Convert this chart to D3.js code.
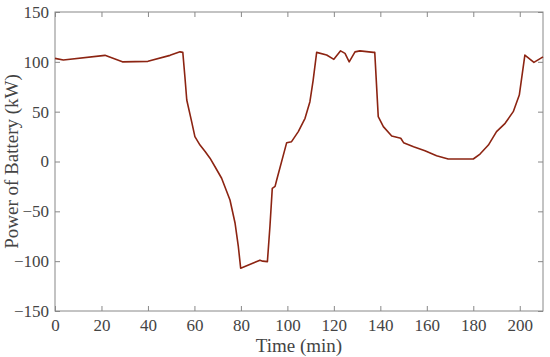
<!DOCTYPE html>
<html>
<head>
<meta charset="utf-8">
<script src="https://cdn.jsdelivr.net/npm/d3@7"></script>
<style>
  body { margin: 0; background: #fff; }
</style>
</head>
<body>
<div id="chart"></div>
<script>
// battery power over time
const timeMin = [0, 3.6, 21.5, 29, 40, 49.5, 53.8, 55, 55.9, 56.7, 58.8, 60.2, 62.4, 64.6, 66.7, 68.8, 71.7,
  75.3, 77.5, 78.9, 79.9, 88.2, 89.4, 91.4, 92.5, 93.5, 94.7, 95.4, 99.7, 101.8, 104.7, 107.6, 109.7,
  111.1, 112.6, 116.9, 120, 122.9, 124.8, 126.6, 129.1, 131.2, 137, 137.6, 139.1, 141.3, 144.9, 148.8,
  150, 154.3, 159.2, 164.2, 169.2, 180, 182.9, 186.5, 190, 193.7, 197.2, 199.8, 202.2, 206.1, 210];
const powerKw = [103.5, 101.8, 106.5, 100, 100.5, 106.5, 110, 109.5, 85, 61.7, 40, 25, 16.5, 10, 3.3, -5, -16.8,
  -38.6, -62, -85.5, -107, -99, -100, -100.5, -65, -27, -25, -18.6, 18.9, 19.9, 30, 43.3, 60,
  81.7, 109.5, 106.8, 102.5, 111, 108.5, 100, 110, 111, 109.5, 109.5, 45, 35, 25.6, 23.3,
  18.9, 14.8, 10.8, 5.8, 2.5, 2.5, 7.5, 16.5, 30, 38.3, 50, 66.7, 106.8, 99.5, 105];
const xTicks = [0, 20, 40, 60, 80, 100, 120, 140, 160, 180, 200];
const yTicks = [-150, -100, -50, 0, 50, 100, 150];

const W = 550, H = 357;
const m = { top: 12, right: 7, bottom: 46, left: 55 };
const iw = W - m.left - m.right, ih = H - m.top - m.bottom;
const FONT = 'Liberation Serif';

const svg = d3.select('#chart').append('svg').attr('width', W).attr('height', H);
const g = svg.append('g').attr('transform', `translate(${m.left},${m.top})`);

const x = d3.scaleLinear().domain([0, 210]).range([0, iw]);
const y = d3.scaleLinear().domain([-150, 150]).range([ih, 0]);

const axisColor = '#888';
function styleAxis(sel, showText) {
  sel.attr('font-family', null).attr('font-size', null);
  sel.select('.domain').remove();
  sel.selectAll('.tick line').attr('stroke', axisColor);
  sel.selectAll('.tick text').style('font-family', FONT).style('font-size', '17px').attr('fill', '#444');
  if (!showText) sel.selectAll('.tick text').remove();
}

// ticks point inward on all four sides
g.append('g').attr('transform', `translate(0,${ih})`)
  .call(d3.axisBottom(x).tickValues(xTicks).tickSizeInner(-5).tickPadding(8).tickFormat(d3.format('d')))
  .call(s => styleAxis(s, true));
g.append('g')
  .call(d3.axisTop(x).tickValues(xTicks).tickSizeInner(-5))
  .call(s => styleAxis(s, false));
g.append('g')
  .call(d3.axisLeft(y).tickValues(yTicks).tickSizeInner(-5).tickPadding(6).tickFormat(d3.format('d')))
  .call(s => styleAxis(s, true));
g.append('g').attr('transform', `translate(${iw},0)`)
  .call(d3.axisRight(y).tickValues(yTicks).tickSizeInner(-5))
  .call(s => styleAxis(s, false));

g.append('rect').attr('width', iw).attr('height', ih)
  .attr('fill', 'none').attr('stroke', axisColor).attr('stroke-width', 1);

const line = d3.line().x((d, i) => x(timeMin[i])).y(d => y(d));
g.append('path').datum(powerKw).attr('d', line)
  .attr('fill', 'none').attr('stroke', '#8c2412').attr('stroke-width', 1.6)
  .attr('stroke-linejoin', 'round');

svg.append('text').attr('x', m.left + iw / 2).attr('y', H - 5)
  .style('font-family', FONT).attr('fill', '#444')
  .attr('text-anchor', 'middle').style('font-size', '19px').text('Time (min)');
svg.append('text')
  .attr('transform', `translate(18,${m.top + ih / 2}) rotate(-90)`)
  .style('font-family', FONT).attr('fill', '#444')
  .attr('text-anchor', 'middle').style('font-size', '19px').text('Power of Battery (kW)');
</script>
</body>
</html>
